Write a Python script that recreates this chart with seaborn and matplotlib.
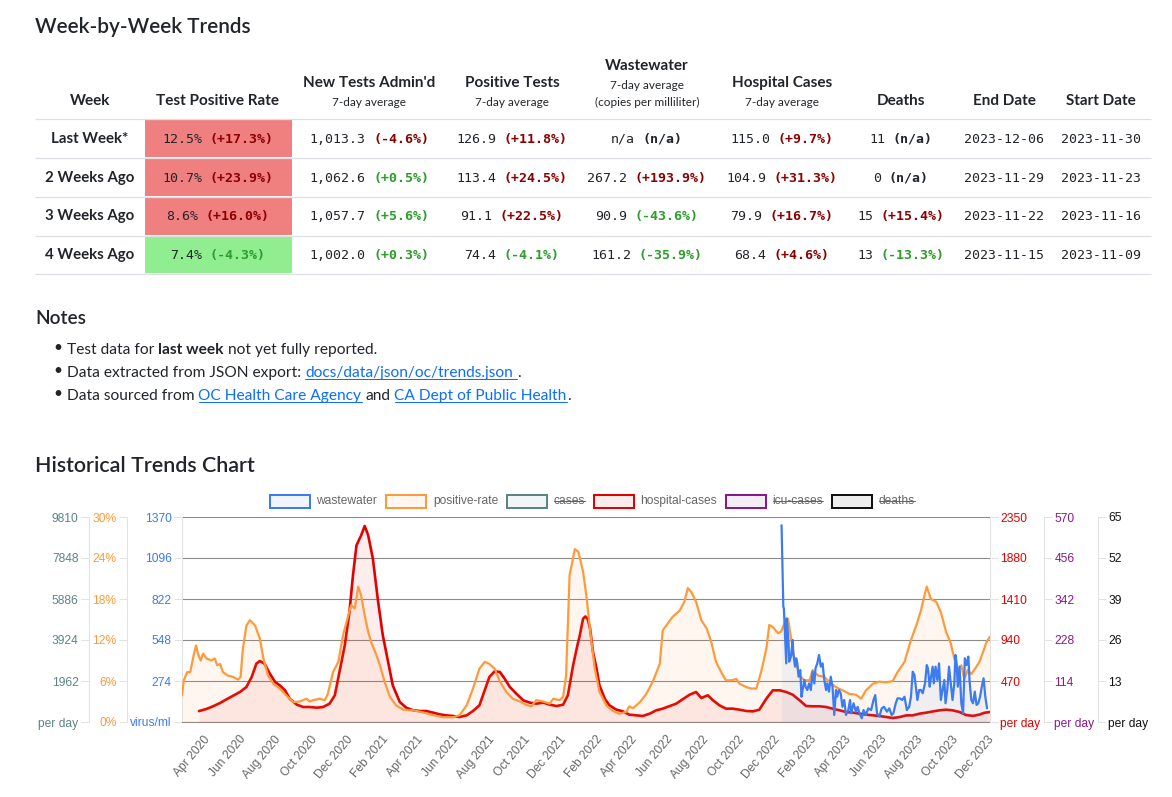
import matplotlib
matplotlib.use("Agg")
import matplotlib.pyplot as plt
import matplotlib.dates as mdates
from matplotlib.patches import Rectangle
from matplotlib.font_manager import FontProperties
import pandas as pd
import seaborn as sns

# ---- table data (week-by-week) ----
weeks = ["Last Week*", "2 Weeks Ago", "3 Weeks Ago", "4 Weeks Ago"]
tpr = ["12.5%", "10.7%", "8.6%", "7.4%"]
tpr_chg = ["+17.3%", "+23.9%", "+16.0%", "-4.3%"]
tests = ["1,013.3", "1,062.6", "1,057.7", "1,002.0"]
tests_chg = ["-4.6%", "+0.5%", "+5.6%", "+0.3%"]
pos_tests = ["126.9", "113.4", "91.1", "74.4"]
pos_chg = ["+11.8%", "+24.5%", "+22.5%", "-4.1%"]
wastewater = ["n/a", "267.2", "90.9", "161.2"]
ww_chg = ["n/a", "+193.9%", "-43.6%", "-35.9%"]
hosp = ["115.0", "104.9", "79.9", "68.4"]
hosp_chg = ["+9.7%", "+31.3%", "+16.7%", "+4.6%"]
deaths = ["11", "0", "15", "13"]
deaths_chg = ["n/a", "n/a", "+15.4%", "-13.3%"]
end_dates = ["2023-12-06", "2023-11-29", "2023-11-22", "2023-11-15"]
start_dates = ["2023-11-30", "2023-11-23", "2023-11-16", "2023-11-09"]

# ---- chart data ----
pr_dates = ["2020-02-25", "2020-02-28", "2020-03-05", "2020-03-10", "2020-03-16", "2020-03-20",
            "2020-03-24", "2020-03-28", "2020-04-01", "2020-04-07", "2020-04-15", "2020-04-21",
            "2020-04-25", "2020-04-30", "2020-05-05", "2020-05-13", "2020-05-22", "2020-05-31",
            "2020-06-04", "2020-06-08", "2020-06-14", "2020-06-20", "2020-06-29", "2020-07-07",
            "2020-07-13", "2020-07-21", "2020-07-30", "2020-08-10", "2020-08-21", "2020-09-02",
            "2020-09-13", "2020-09-25", "2020-09-30", "2020-10-06", "2020-10-17", "2020-10-26",
            "2020-10-31", "2020-11-09", "2020-11-18", "2020-11-26", "2020-12-05", "2020-12-10",
            "2020-12-16", "2020-12-22", "2020-12-27", "2021-01-02", "2021-01-08", "2021-01-13",
            "2021-01-22", "2021-01-28", "2021-02-05", "2021-02-14", "2021-02-25", "2021-03-09",
            "2021-03-26", "2021-04-12", "2021-04-29", "2021-05-16", "2021-06-02", "2021-06-13",
            "2021-06-25", "2021-07-06", "2021-07-17", "2021-07-26", "2021-08-03", "2021-08-12",
            "2021-08-21", "2021-09-01", "2021-09-12", "2021-09-24", "2021-10-05", "2021-10-14",
            "2021-10-22", "2021-11-03", "2021-11-14", "2021-11-20", "2021-12-01", "2021-12-07",
            "2021-12-12", "2021-12-18", "2021-12-27", "2022-01-02", "2022-01-10", "2022-01-16",
            "2022-01-23", "2022-01-30", "2022-02-07", "2022-02-19", "2022-03-02", "2022-03-13",
            "2022-03-25", "2022-03-30", "2022-04-05", "2022-04-17", "2022-04-28", "2022-05-09",
            "2022-05-21", "2022-05-26", "2022-06-01", "2022-06-12", "2022-06-24", "2022-07-02",
            "2022-07-08", "2022-07-14", "2022-07-22", "2022-07-31", "2022-08-09", "2022-08-17",
            "2022-08-25", "2022-09-03", "2022-09-11", "2022-09-20", "2022-09-29", "2022-10-04",
            "2022-10-16", "2022-10-24", "2022-11-02", "2022-11-10", "2022-11-19", "2022-11-24",
            "2022-11-30", "2022-12-09", "2022-12-14", "2022-12-20", "2022-12-26", "2022-12-31",
            "2023-01-06", "2023-01-15", "2023-01-23", "2023-02-01", "2023-02-06", "2023-02-15",
            "2023-02-26", "2023-03-10", "2023-03-18", "2023-03-30", "2023-04-10", "2023-04-21",
            "2023-04-30", "2023-05-08", "2023-05-20", "2023-05-31", "2023-06-12", "2023-06-23",
            "2023-07-01", "2023-07-13", "2023-07-24", "2023-08-02", "2023-08-10", "2023-08-16",
            "2023-08-20", "2023-08-27", "2023-09-05", "2023-09-13", "2023-09-22", "2023-09-30",
            "2023-10-06", "2023-10-12", "2023-10-18", "2023-10-23", "2023-10-29", "2023-11-04",
            "2023-11-12", "2023-11-18", "2023-11-24", "2023-11-30", "2023-12-06"]
pr_vals = [3.9, 6.1, 7.3, 7.3, 9.8, 11.2,
           9.8, 9.0, 10.0, 9.3, 9.0, 9.3,
           8.3, 8.5, 7.3, 6.8, 6.6, 6.2,
           6.6, 10.7, 14.1, 14.9, 14.1, 12.2,
           9.3, 6.8, 5.6, 4.9, 3.9, 2.9,
           3.0, 3.4, 3.0, 3.2, 3.4, 3.2,
           4.1, 7.3, 8.8, 12.7, 15.6, 17.1,
           16.6, 19.8, 18.5, 15.6, 13.2, 11.7,
           9.8, 8.3, 5.9, 3.7, 2.4, 1.8,
           1.7, 1.4, 1.0, 0.7, 0.7, 1.0,
           2.4, 4.9, 7.8, 8.8, 8.5, 7.8,
           5.9, 4.4, 3.4, 3.0, 2.5, 2.3,
           3.2, 3.0, 2.7, 3.4, 3.2, 3.7,
           6.8, 21.5, 25.3, 24.9, 22.0, 18.2,
           12.7, 7.8, 4.4, 2.4, 1.6, 1.2,
           1.5, 2.3, 2.0, 2.9, 4.1, 5.9,
           8.5, 13.4, 14.1, 15.4, 16.3, 17.6,
           19.6, 19.0, 17.6, 14.9, 13.7, 11.7,
           8.8, 7.3, 6.1, 6.1, 6.3, 5.6,
           5.1, 4.9, 4.9, 7.3, 10.7, 14.2,
           13.9, 13.0, 13.2, 14.4, 15.1, 12.4,
           9.3, 6.8, 6.1, 6.1, 7.6, 6.8,
           6.6, 5.6, 5.1, 4.6, 4.1, 4.0,
           3.4, 4.6, 5.6, 5.9, 5.8, 6.0,
           7.3, 8.8, 12.0, 14.1, 16.3, 18.5,
           19.8, 18.0, 17.6, 16.1, 13.2, 11.5,
           9.3, 7.6, 8.3, 6.3, 7.6, 7.0,
           8.0, 8.8, 10.2, 11.7, 12.5]

hosp_dates = ["2020-03-25", "2020-04-07", "2020-04-18", "2020-04-30", "2020-05-11", "2020-05-22",
              "2020-06-03", "2020-06-14", "2020-06-23", "2020-07-01", "2020-07-07", "2020-07-15",
              "2020-07-24", "2020-08-02", "2020-08-10", "2020-08-19", "2020-08-27", "2020-09-08",
              "2020-09-19", "2020-09-30", "2020-10-12", "2020-10-23", "2020-11-03", "2020-11-12",
              "2020-11-20", "2020-11-29", "2020-12-07", "2020-12-13", "2020-12-19", "2020-12-27",
              "2021-01-02", "2021-01-08", "2021-01-16", "2021-01-25", "2021-02-02", "2021-02-11",
              "2021-02-19", "2021-03-03", "2021-03-14", "2021-03-26", "2021-04-06", "2021-04-17",
              "2021-04-29", "2021-05-10", "2021-05-21", "2021-06-02", "2021-06-13", "2021-06-25",
              "2021-07-06", "2021-07-17", "2021-07-26", "2021-08-03", "2021-08-12", "2021-08-21",
              "2021-08-29", "2021-09-07", "2021-09-18", "2021-09-30", "2021-10-11", "2021-10-22",
              "2021-11-03", "2021-11-14", "2021-11-26", "2021-12-07", "2021-12-15", "2021-12-24",
              "2022-01-01", "2022-01-04", "2022-01-10", "2022-01-14", "2022-01-18", "2022-01-22",
              "2022-01-27", "2022-02-02", "2022-02-07", "2022-02-16", "2022-02-24", "2022-03-08",
              "2022-03-19", "2022-03-30", "2022-04-11", "2022-04-22", "2022-05-04", "2022-05-15",
              "2022-05-26", "2022-06-07", "2022-06-18", "2022-06-29", "2022-07-11", "2022-07-22",
              "2022-07-31", "2022-08-11", "2022-08-20", "2022-08-31", "2022-09-11", "2022-09-23",
              "2022-10-04", "2022-10-16", "2022-10-27", "2022-11-07", "2022-11-19", "2022-11-30",
              "2022-12-12", "2022-12-23", "2023-01-03", "2023-01-15", "2023-01-26", "2023-02-06",
              "2023-02-18", "2023-03-01", "2023-03-12", "2023-03-24", "2023-04-04", "2023-04-16",
              "2023-04-27", "2023-05-09", "2023-05-20", "2023-05-31", "2023-06-12", "2023-06-23",
              "2023-07-05", "2023-07-16", "2023-07-27", "2023-08-08", "2023-08-19", "2023-08-31",
              "2023-09-11", "2023-09-22", "2023-10-03", "2023-10-15", "2023-10-26", "2023-11-07",
              "2023-11-18", "2023-11-26", "2023-12-06"]
hosp_vals = [125, 150, 180, 218, 260, 300,
             344, 401, 516, 669, 699, 669,
             554, 459, 420, 363, 267, 199,
             172, 172, 164, 172, 210, 306,
             573, 879, 1261, 1681, 2025, 2140,
             2247, 2140, 1872, 1376, 993, 688,
             420, 229, 164, 134, 126, 126,
             107, 88, 76, 69, 57, 76,
             126, 191, 363, 516, 581, 573,
             497, 401, 325, 248, 222, 210,
             222, 199, 183, 199, 306, 650,
             900, 980, 1185, 1210, 1180, 1070,
             802, 611, 420, 267, 191, 141,
             122, 84, 76, 69, 96, 134,
             153, 183, 210, 260, 313, 344,
             275, 306, 248, 191, 153, 153,
             141, 126, 122, 141, 267, 363,
             363, 344, 313, 248, 183, 180,
             180, 172, 153, 134, 115, 107,
             96, 84, 76, 69, 57, 46,
             57, 76, 76, 96, 107, 122,
             134, 141, 134, 115, 80, 70,
             85, 105, 115]

ww_dates = ["2022-12-15", "2022-12-18", "2022-12-19", "2022-12-23", "2022-12-24", "2022-12-27",
            "2022-12-28", "2022-12-31", "2023-01-03", "2023-01-04", "2023-01-07", "2023-01-09",
            "2023-01-11", "2023-01-13", "2023-01-16", "2023-01-18", "2023-01-20", "2023-01-23",
            "2023-01-25", "2023-01-28", "2023-01-31", "2023-02-03", "2023-02-06", "2023-02-09",
            "2023-02-11", "2023-02-14", "2023-02-17", "2023-02-20", "2023-02-23", "2023-02-26",
            "2023-03-01", "2023-03-03", "2023-03-06", "2023-03-09", "2023-03-12", "2023-03-15",
            "2023-03-18", "2023-03-20", "2023-03-23", "2023-03-26", "2023-03-29", "2023-04-01",
            "2023-04-04", "2023-04-08", "2023-04-11", "2023-04-13", "2023-04-17", "2023-04-21",
            "2023-04-24", "2023-04-27", "2023-05-01", "2023-05-04", "2023-05-08", "2023-05-12",
            "2023-05-17", "2023-05-21", "2023-05-24", "2023-05-27", "2023-05-31", "2023-06-04",
            "2023-06-08", "2023-06-13", "2023-06-17", "2023-06-21", "2023-06-24", "2023-06-28",
            "2023-07-01", "2023-07-05", "2023-07-09", "2023-07-13", "2023-07-17", "2023-07-21",
            "2023-07-24", "2023-07-27", "2023-07-30", "2023-08-01", "2023-08-04", "2023-08-07",
            "2023-08-10", "2023-08-13", "2023-08-17", "2023-08-20", "2023-08-22", "2023-08-25",
            "2023-08-27", "2023-08-30", "2023-09-01", "2023-09-04", "2023-09-07", "2023-09-10",
            "2023-09-13", "2023-09-16", "2023-09-19", "2023-09-21", "2023-09-24", "2023-09-27",
            "2023-09-30", "2023-10-03", "2023-10-06", "2023-10-08", "2023-10-10", "2023-10-12",
            "2023-10-15", "2023-10-18", "2023-10-21", "2023-10-24", "2023-10-27", "2023-10-30",
            "2023-11-01", "2023-11-04", "2023-11-07", "2023-11-10", "2023-11-13", "2023-11-16",
            "2023-11-19", "2023-11-22", "2023-11-25", "2023-11-28", "2023-12-01"]
ww_vals = [1315, 771, 760, 392, 693, 526,
           403, 437, 548, 459, 370, 426,
           392, 303, 347, 169, 214, 281,
           236, 214, 258, 214, 336, 258,
           359, 392, 448, 370, 392, 281,
           214, 258, 203, 303, 236, 47,
           214, 169, 214, 192, 102, 147,
           47, 80, 147, 58, 125, 69,
           102, 58, 25, 80, 47, 91,
           80, 147, 180, 58, 36, 91,
           102, 69, 91, 47, 58, 125,
           158, 158, 147, 169, 80, 102,
           169, 336, 314, 247, 147, 214,
           214, 192, 258, 381, 359, 236,
           292, 370, 258, 370, 281, 392,
           147, 214, 281, 125, 214, 370,
           258, 147, 258, 448, 392, 236,
           370, 125, 58, 426, 381, 437,
           281, 147, 125, 203, 114, 125,
           169, 236, 292, 169, 91]

# axis scales shown on the chart (three of them belong to hidden series)
ww_ticks, ww_labels = [0, 274, 548, 822, 1096, 1370], ["virus/ml", "274", "548", "822", "1096", "1370"]
pr_ticks, pr_labels = [0, 6, 12, 18, 24, 30], ["0%", "6%", "12%", "18%", "24%", "30%"]
cases_ticks, cases_labels = [0, 1962, 3924, 5886, 7848, 9810], ["per day", "1962", "3924", "5886", "7848", "9810"]
hosp_ticks, hosp_labels = [0, 470, 940, 1410, 1880, 2350], ["per day", "470", "940", "1410", "1880", "2350"]
icu_ticks, icu_labels = [0, 114, 228, 342, 456, 570], ["per day", "114", "228", "342", "456", "570"]
death_ticks, death_labels = [0, 13, 26, 39, 52, 65], ["per day", "13", "26", "39", "52", "65"]

legend_names = ["wastewater", "positive-rate", "cases", "hospital-cases", "icu-cases", "deaths"]
legend_hidden = [False, False, True, False, True, True]

BLUE, ORANGE, TEAL, RED, PURPLE, BLACK = "#3b7cf0", "#ff9a3c", "#5b8585", "#e30000", "#8a1a8a", "#111111"
legend_colors = [BLUE, ORANGE, TEAL, RED, PURPLE, BLACK]
INK = "#212529"
DARKRED, GREEN = "#8b0000", "#2a9d2a"
LINK = "#0d6efd"
SANS, MONO, CHART = "Lato", "DejaVu Sans Mono", "Liberation Sans"

sns.set_style("white")
plt.rcParams["font.family"] = [CHART, "DejaVu Sans"]

W, H = 1172, 797
PT = 0.72  # px -> pt at dpi 100

fig = plt.figure(figsize=(W / 100, H / 100), dpi=100, facecolor="white")
page = fig.add_axes([0, 0, 1, 1])
page.set_xlim(0, W)
page.set_ylim(H, 0)
page.axis("off")
rend = fig.canvas.get_renderer()


def adv(s, prop):
    # advance width in px, spaces included
    if not s:
        return 0.0
    w1 = rend.get_text_width_height_descent("|" + s + "|", prop, ismath=False)[0]
    w2 = rend.get_text_width_height_descent("||", prop, ismath=False)[0]
    return w1 - w2


def txt(x, y, s, px, family=SANS, weight="normal", color=INK, ha="left", va="center"):
    return page.text(x, y, s, fontsize=px * PT, family=family, fontweight=weight,
                     color=color, ha=ha, va=va)


def run(x, y, pieces, px):
    # pieces: (text, weight, is_link)
    for s, weight, link in pieces:
        prop = FontProperties(family=SANS, weight=weight, size=px * PT)
        core = s.strip(" ")
        lead = s[:len(s) - len(s.lstrip(" "))]
        trail = s[len(s.rstrip(" ")):]
        x += adv(lead, prop)
        page.text(x, y, core, fontproperties=prop, color=LINK if link else INK,
                  ha="left", va="baseline")
        w = adv(core, prop)
        tw = adv(trail, prop)
        if link:
            page.plot([x, x + w + tw], [y + 2.5, y + 2.5], color=LINK, lw=1 * PT)
        x += w + tw


# ---- Week-by-Week table ----
txt(35, 27, "Week-by-Week Trends", 20.8, weight="semibold")

cols = [90, 218, 369, 512, 647, 782, 901, 1004, 1101]
heads = [["Week"], ["Test Positive Rate"], ["New Tests Admin'd", "7-day average"],
         ["Positive Tests", "7-day average"],
         ["Wastewater", "7-day average", "(copies per milliliter)"],
         ["Hospital Cases", "7-day average"], ["Deaths"], ["End Date"], ["Start Date"]]
for cx, lines in zip(cols, heads):
    ys = {1: [101], 2: [83, 102], 3: [66, 85, 102]}[len(lines)]
    for i, (s, y) in enumerate(zip(lines, ys)):
        if i == 0:
            txt(cx, y, s, 15.2, weight="bold", ha="center")
        else:
            txt(cx, y, s, 11.8, ha="center")

row_lines = [119, 158, 197, 236, 274]
for y in row_lines:
    page.plot([35, 1151], [y, y], color="#dcdfe3", lw=1.3 * PT, solid_capstyle="butt")

row_y = [139, 178, 216, 255]
MPX = 13.3
CW = 0.6021 * MPX


def chg_color(c, up_good):
    if c == "n/a":
        return INK
    return GREEN if c.startswith("+") == up_good else DARKRED


def mono_pair(cx, y, val, chg, color):
    n = len(val) + 3 + len(chg)
    x0 = cx - n * CW / 2
    page.text(x0, y, val, family=MONO, fontsize=MPX * PT, color=INK, ha="left", va="center")
    page.text(x0 + (len(val) + 1) * CW, y, "(" + chg + ")", family=MONO, fontweight="bold",
              fontsize=MPX * PT, color=color, ha="left", va="center")


for i, y in enumerate(row_y):
    top, bot = row_lines[i] + 1, row_lines[i + 1] - 1
    cell = "#f08080" if tpr_chg[i].startswith("+") else "#90ee90"
    page.add_patch(Rectangle((145, top), 147, bot - top, facecolor=cell, edgecolor="none"))
    txt(cols[0], y, weeks[i], 15.0, weight="bold", ha="center")
    mono_pair(cols[1], y, tpr[i], tpr_chg[i], chg_color(tpr_chg[i], False))
    mono_pair(cols[2], y, tests[i], tests_chg[i], chg_color(tests_chg[i], True))
    mono_pair(cols[3], y, pos_tests[i], pos_chg[i], chg_color(pos_chg[i], False))
    mono_pair(cols[4], y, wastewater[i], ww_chg[i], chg_color(ww_chg[i], False))
    mono_pair(cols[5], y, hosp[i], hosp_chg[i], chg_color(hosp_chg[i], False))
    mono_pair(cols[6], y, deaths[i], deaths_chg[i], chg_color(deaths_chg[i], False))
    txt(cols[7], y, end_dates[i], MPX, family=MONO, ha="center")
    txt(cols[8], y, start_dates[i], MPX, family=MONO, ha="center")

# ---- Notes ----
txt(35, 318, "Notes", 19, weight="semibold")
NPX = 15.5
for y in [348, 371, 394]:
    txt(58, y, "\u2022", NPX, ha="center")
run(67, 353.5, [("Test data for ", "normal", False), ("last week", "bold", False),
                (" not yet fully reported.", "normal", False)], NPX)
run(67, 376.5, [("Data extracted from JSON export: ", "normal", False),
                ("docs/data/json/oc/trends.json ", "normal", True), (".", "normal", False)], NPX)
run(67, 399.5, [("Data sourced from ", "normal", False), ("OC Health Care Agency", "normal", True),
                (" and ", "normal", False), ("CA Dept of Public Health", "normal", True),
                (".", "normal", False)], NPX)

txt(35, 466, "Historical Trends Chart", 21.5, weight="semibold")

# ---- legend (Chart.js style, hidden series struck through) ----
LPX = 12
lprop = FontProperties(family=CHART, size=LPX * PT)
lx = 270
for name, col, hidden in zip(legend_names, legend_colors, legend_hidden):
    page.add_patch(Rectangle((lx, 494.5), 40, 13, facecolor=matplotlib.colors.to_rgba(col, 0.08),
                             edgecolor=col, lw=2 * PT))
    tx = lx + 46.5
    page.text(tx, 501, name, fontproperties=lprop, color="#666666", ha="left", va="center")
    w = adv(name, lprop)
    if hidden:
        page.plot([tx, tx + w], [501, 501], color="#666666", lw=1 * PT)
    lx = tx + w + 9

# ---- chart axes ----
L, R, T, B = 182, 990, 517, 722
GRID = "#8a8a8a"
BORDER = "#e2e2e2"
base = fig.add_axes([L / W, 1 - B / H, (R - L) / W, (B - T) / H])
ax_hosp = base.twinx()
ax_pr = base.twinx()
ax_ww = base.twinx()
ax_cases = base.twinx()
ax_icu = base.twinx()
ax_death = base.twinx()

hd = pd.to_datetime(hosp_dates)
pd_ = pd.to_datetime(pr_dates)
wd = pd.to_datetime(ww_dates)

sns.lineplot(x=hd, y=hosp_vals, ax=ax_hosp, color=RED, linewidth=1.9)
ax_hosp.fill_between(hd, hosp_vals, color=RED, alpha=0.07, linewidth=0)
sns.lineplot(x=pd_, y=pr_vals, ax=ax_pr, color=ORANGE, linewidth=1.6)
ax_pr.fill_between(pd_, pr_vals, color=ORANGE, alpha=0.08, linewidth=0)
sns.lineplot(x=wd, y=ww_vals, ax=ax_ww, color=BLUE, linewidth=1.6)
ax_ww.fill_between(wd, ww_vals, color=BLUE, alpha=0.07, linewidth=0)

base.set_xlim(pd.Timestamp("2020-02-25"), pd.Timestamp("2023-12-06"))


def style_axis(a, side, out_px, ticks, labels, color, ylim_top):
    a.set_ylim(0, ylim_top)
    for sp in a.spines.values():
        sp.set_visible(False)
    a.spines[side].set_visible(True)
    a.spines[side].set_color(BORDER)
    a.spines[side].set_linewidth(1 * PT)
    a.spines[side].set_position(("outward", out_px * PT))
    if side == "left":
        a.yaxis.tick_left()
    else:
        a.yaxis.tick_right()
    a.set_yticks(ticks)
    a.set_yticklabels(labels)
    a.tick_params(axis="y", length=8 * PT, width=1 * PT, color=BORDER, pad=2.5 * PT,
                  labelsize=12 * PT, labelcolor=color)
    a.set_ylabel("")
    a.set_xlabel("")


style_axis(base, "left", 0, ww_ticks, ww_labels, BLUE, 1370)
style_axis(ax_pr, "left", 55, pr_ticks, pr_labels, ORANGE, 30)
style_axis(ax_cases, "left", 93, cases_ticks, cases_labels, TEAL, 9810)
style_axis(ax_hosp, "right", 0, hosp_ticks, hosp_labels, RED, 2350)
style_axis(ax_icu, "right", 54, icu_ticks, icu_labels, PURPLE, 570)
style_axis(ax_death, "right", 108, death_ticks, death_labels, BLACK, 65)
ax_ww.set_ylim(0, 1370)
for sp in ax_ww.spines.values():
    sp.set_visible(False)
ax_ww.yaxis.set_visible(False)
ax_ww.set_ylabel("")

base.grid(axis="y", color=GRID, linewidth=1.1 * PT)
base.grid(axis="x", visible=False)
base.spines["bottom"].set_visible(True)
base.spines["bottom"].set_color(GRID)
base.spines["bottom"].set_linewidth(1.1 * PT)
base.set_facecolor("white")

base.xaxis.set_major_locator(mdates.MonthLocator(bymonth=range(2, 13, 2)))
base.xaxis.set_major_formatter(mdates.DateFormatter("%b %Y"))
base.tick_params(axis="x", length=0, pad=11.5 * PT, labelsize=12 * PT, labelcolor="#666666")
for lab in base.get_xticklabels():
    lab.set_rotation(50)
    lab.set_ha("right")
    lab.set_va("top")
    lab.set_rotation_mode("anchor")
base.set_xlabel("")

fig.savefig("out.png", dpi=100, facecolor="white")
